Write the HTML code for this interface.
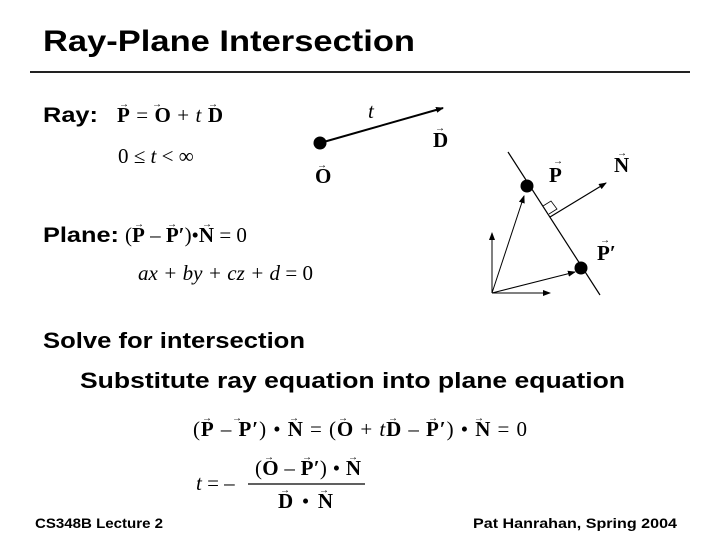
<!DOCTYPE html>
<html><head><style>body{margin:0;background:#fff}svg{display:block}
.s{font-family:"Liberation Sans",sans-serif;font-weight:bold}
.m{font-family:"Liberation Serif",serif;font-size:21px}
.b{font-weight:bold}
</style></head><body>
<svg width="720" height="540" viewBox="0 0 720 540">
<defs><marker id="a" markerWidth="8" markerHeight="6" refX="7" refY="3" orient="auto" markerUnits="userSpaceOnUse"><path d="M0,0L8,3L0,6z" fill="#000"/></marker></defs>
<text x="43" y="51" class="s" font-size="30" textLength="372" lengthAdjust="spacingAndGlyphs">Ray-Plane Intersection</text>
<rect x="30" y="71" width="660" height="2" fill="#222"/>
<text x="43" y="122" class="s" font-size="21" textLength="55" lengthAdjust="spacingAndGlyphs">Ray:</text>
<text x="117" y="122" class="m" textLength="106" lengthAdjust="spacing"><tspan class="b">P</tspan> = <tspan class="b">O</tspan> + <tspan font-style="italic">t</tspan> <tspan class="b">D</tspan></text>
<text x="118" y="163" class="m">0 ≤ <tspan font-style="italic">t</tspan> &lt; ∞</text>
<text x="43" y="242" class="s" font-size="21" textLength="76" lengthAdjust="spacingAndGlyphs">Plane:</text>
<text x="125" y="242" class="m">(<tspan class="b">P</tspan> – <tspan class="b">P′</tspan>)•<tspan class="b">N</tspan> = 0</text>
<text x="138" y="280" class="m" font-style="italic" textLength="175" lengthAdjust="spacing">ax + by + cz + d <tspan font-style="normal">= 0</tspan></text>
<text x="43" y="348" class="s" font-size="22" textLength="262" lengthAdjust="spacingAndGlyphs">Solve for intersection</text>
<text x="80" y="388" class="s" font-size="22" textLength="545" lengthAdjust="spacingAndGlyphs">Substitute ray equation into plane equation</text>
<text x="193" y="436" class="m" textLength="334" lengthAdjust="spacing">(<tspan class="b">P</tspan> – <tspan class="b">P′</tspan>) • <tspan class="b">N</tspan> = (<tspan class="b">O</tspan> + <tspan font-style="italic">t</tspan><tspan class="b">D</tspan> – <tspan class="b">P′</tspan>) • <tspan class="b">N</tspan> = 0</text>
<text x="196" y="490" class="m"><tspan font-style="italic">t</tspan> = –</text>
<text x="255" y="475" class="m" textLength="106" lengthAdjust="spacing">(<tspan class="b">O</tspan> – <tspan class="b">P′</tspan>) • <tspan class="b">N</tspan></text>
<line x1="248" y1="484" x2="365" y2="484" stroke="#000" stroke-width="1.2"/>
<text x="278" y="508" class="m" textLength="55" lengthAdjust="spacing"><tspan class="b">D</tspan> • <tspan class="b">N</tspan></text>
<text x="35" y="528" class="s" font-size="14" textLength="128" lengthAdjust="spacingAndGlyphs">CS348B Lecture 2</text>
<text x="473" y="528" class="s" font-size="14" textLength="204" lengthAdjust="spacingAndGlyphs">Pat Hanrahan, Spring 2004</text>
<g font-family="Liberation Serif" font-size="10" text-anchor="middle">
<text x="124" y="107">→</text><text x="157" y="107">→</text><text x="213" y="107">→</text>
<text x="139" y="227">→</text><text x="172" y="227">→</text><text x="207" y="227">→</text>
<text x="207" y="421">→</text><text x="237" y="421">→</text><text x="294" y="421">→</text><text x="343" y="421">→</text><text x="393" y="421">→</text><text x="433" y="421">→</text><text x="479" y="421">→</text>
<text x="269" y="460">→</text><text x="307" y="460">→</text><text x="353" y="460">→</text>
<text x="285" y="493">→</text><text x="324" y="493">→</text>
<text x="322" y="168">→</text><text x="440" y="131">→</text><text x="558" y="164">→</text><text x="622" y="156">→</text><text x="605" y="243">→</text>
</g>
<line x1="320" y1="143" x2="443" y2="108" stroke="#000" stroke-width="2" marker-end="url(#a)"/>
<circle cx="320" cy="143" r="6.5"/>
<text x="368" y="118" class="m" font-style="italic">t</text>
<text x="433" y="147" class="m b">D</text>
<text x="315" y="183" class="m b">O</text>
<line x1="508" y1="152" x2="600" y2="295" stroke="#000" stroke-width="1.2"/>
<line x1="550" y1="217" x2="606" y2="183" stroke="#000" stroke-width="1.2" marker-end="url(#a)"/>
<path d="M543,206 L551,201 L557,209 L549,214" fill="none" stroke="#000" stroke-width="0.8"/>
<line x1="492" y1="293" x2="492" y2="233" stroke="#000" stroke-width="1" marker-end="url(#a)"/>
<line x1="492" y1="293" x2="550" y2="293" stroke="#000" stroke-width="1" marker-end="url(#a)"/>
<line x1="492" y1="293" x2="524" y2="196" stroke="#000" stroke-width="1" marker-end="url(#a)"/>
<line x1="492" y1="293" x2="575" y2="272" stroke="#000" stroke-width="1" marker-end="url(#a)"/>
<circle cx="527" cy="186" r="6.5"/>
<circle cx="581" cy="268" r="6.5"/>
<text x="549" y="182" class="m b">P</text>
<text x="614" y="172" class="m b">N</text>
<text x="597" y="260" class="m b">P′</text>
</svg>
</body></html>
